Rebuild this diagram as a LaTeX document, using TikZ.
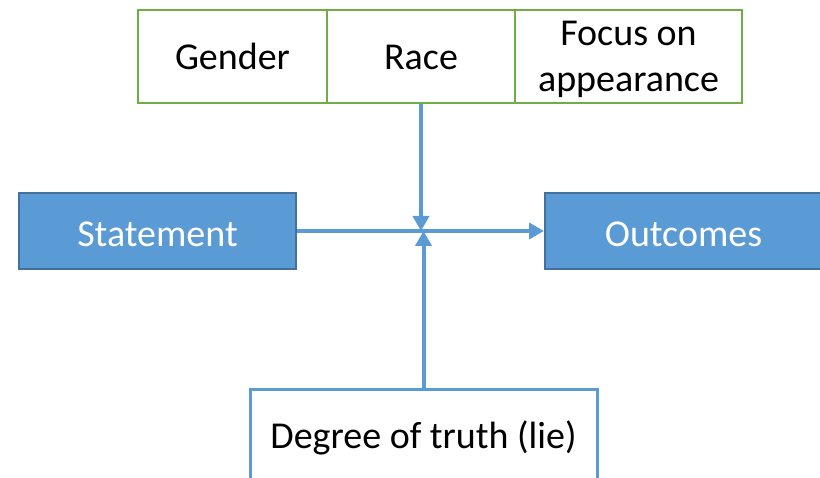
\documentclass[tikz,border=0pt]{standalone}
\usepackage{fontspec}
\setmainfont{Carlito}
\usetikzlibrary{arrows.meta}
\definecolor{accBlue}{HTML}{5B9BD5}
\definecolor{accBlueDk}{HTML}{41719C}
\definecolor{accGreen}{HTML}{70AD47}
\tikzset{
  cvFactor/.style={draw=accGreen, line width=2.5pt, fill=white, inner sep=0pt,
    minimum height=93pt, align=center, text depth=1pt,
    font=\fontsize{38}{46}\selectfont},
  cvMain/.style={draw=accBlueDk, line width=2pt, fill=accBlue, inner sep=0pt,
    minimum width=277pt, minimum height=76pt, text=white, text height=32pt,
    text depth=0pt, font=\fontsize{38}{46}\selectfont},
  cvTruth/.style={draw=accBlue, line width=3pt, fill=white, inner sep=0pt,
    minimum width=347pt, minimum height=96pt, text height=27pt, text depth=5pt,
    font=\fontsize{38}{46}\selectfont},
  %% connectors
  cvflow/.style={-{Triangle[length=15pt, width=16pt]}, line width=4pt, accBlue},
}
\begin{document}
\begin{tikzpicture}[x=1pt, y=-1pt]
\useasboundingbox (0,0) rectangle (820,478);
\clip (0,0) rectangle (820,478);

\node[cvFactor, minimum width=189pt, text height=27pt] (fGender) at (232.5,56.5) {Gender};
\node[cvFactor, minimum width=188pt, text height=27pt] (fRace)   at (421,56.5)   {Race};
\node[cvFactor, minimum width=227pt, text depth=-2pt] (fFocus) at (628.5,56.5) {Focus on\\appearance};

\node[cvMain]  (mStatement) at (157.5,231) {Statement};
\node[cvMain]  (mOutcomes)  at (683.5,231) {Outcomes};
\node[cvTruth] (mTruth)     at (423.5,438) {Degree of truth (lie)};

\draw[cvflow] (mStatement.east) -- (mOutcomes.west);
\draw[cvflow] (fRace.south) -- (fRace.south |- mStatement.east);
\draw[cvflow] (mTruth.north) -- (mTruth.north |- mStatement.east);

\end{tikzpicture}
\end{document}
